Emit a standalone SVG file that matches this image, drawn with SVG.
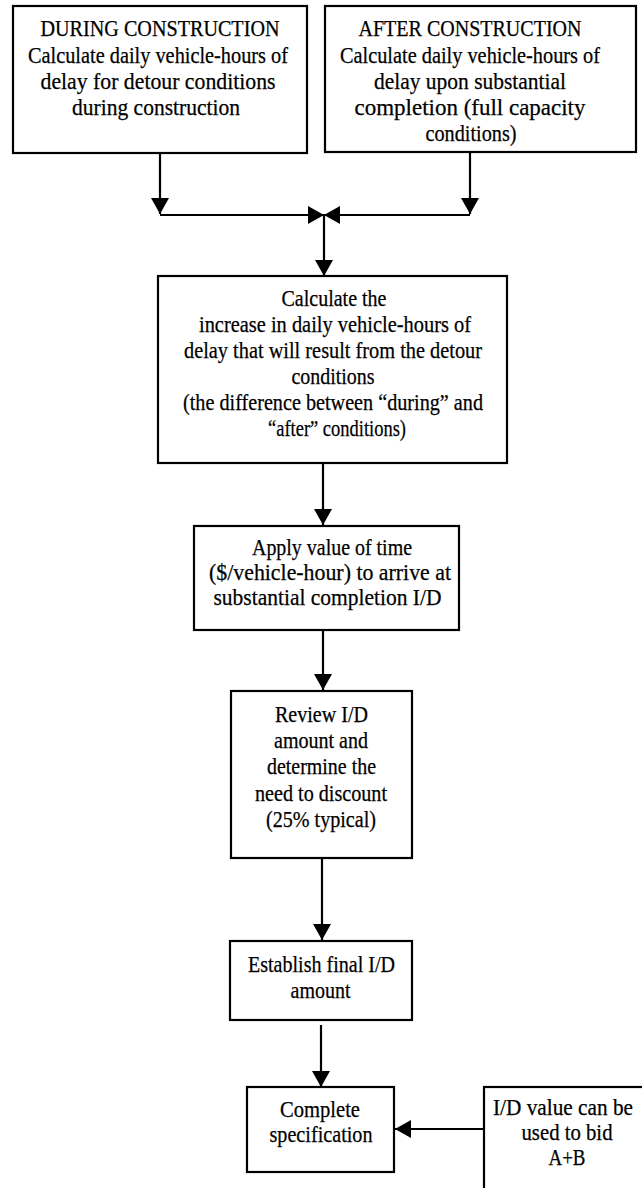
<svg xmlns="http://www.w3.org/2000/svg" width="642" height="1188" viewBox="0 0 642 1188">
  <style>
    .box { fill: #ffffff; stroke: #000000; stroke-width: 2.2; }
    .lbl { font-family: "Liberation Serif", "Times New Roman", serif; font-size: 23.5px; fill: #000000; stroke: #000000; stroke-width: 0.25; text-anchor: middle; }
    .con { fill: none; stroke: #000000; stroke-width: 2.2; marker-end: url(#head); }
  </style>
  <defs>
    <marker id="head" markerUnits="userSpaceOnUse" viewBox="0 0 16 18" refX="16" refY="9" markerWidth="16" markerHeight="18" orient="auto">
      <path d="M0,0 L16,9 L0,18 Z" fill="#000000"/>
    </marker>
  </defs>

  <rect x="0" y="0" width="642" height="1188" fill="#ffffff"/>

  <!-- connectors -->
  <g id="connectors">
    <path class="con" d="M160,153 V214"/>
    <path class="con" d="M470,152 V214"/>
    <path class="con" d="M160,215 H324"/>
    <path class="con" d="M470,215 H324"/>
    <path class="con" d="M324,215 V276"/>
    <path class="con" d="M323,463 V525"/>
    <path class="con" d="M323,630 V690"/>
    <path class="con" d="M322,858 V940"/>
    <path class="con" d="M321,1025 V1087"/>
    <path class="con" d="M484,1129 H395"/>
  </g>

  <g id="during">
    <rect class="box" x="13" y="6" width="294" height="147"/>
    <text class="lbl" x="160" y="36" textLength="239" lengthAdjust="spacingAndGlyphs">DURING CONSTRUCTION</text>
    <text class="lbl" x="158" y="62.5" textLength="260" lengthAdjust="spacingAndGlyphs">Calculate daily vehicle-hours of</text>
    <text class="lbl" x="158" y="89" textLength="235" lengthAdjust="spacingAndGlyphs">delay for detour conditions</text>
    <text class="lbl" x="156" y="115" textLength="168" lengthAdjust="spacingAndGlyphs">during construction</text>
  </g>

  <g id="after">
    <rect class="box" x="325" y="6" width="311" height="146"/>
    <text class="lbl" x="470" y="36" textLength="223" lengthAdjust="spacingAndGlyphs">AFTER CONSTRUCTION</text>
    <text class="lbl" x="470" y="62.5" textLength="260" lengthAdjust="spacingAndGlyphs">Calculate daily vehicle-hours of</text>
    <text class="lbl" x="470" y="89" textLength="192" lengthAdjust="spacingAndGlyphs">delay upon substantial</text>
    <text class="lbl" x="470" y="115" textLength="231" lengthAdjust="spacingAndGlyphs">completion (full capacity</text>
    <text class="lbl" x="471" y="141" textLength="91" lengthAdjust="spacingAndGlyphs">conditions)</text>
  </g>

  <g id="increase">
    <rect class="box" x="158" y="276" width="349" height="187"/>
    <text class="lbl" x="334" y="306" textLength="105" lengthAdjust="spacingAndGlyphs">Calculate the</text>
    <text class="lbl" x="335" y="332" textLength="272" lengthAdjust="spacingAndGlyphs">increase in daily vehicle-hours of</text>
    <text class="lbl" x="333" y="358" textLength="298" lengthAdjust="spacingAndGlyphs">delay that will result from the detour</text>
    <text class="lbl" x="333" y="384" textLength="83" lengthAdjust="spacingAndGlyphs">conditions</text>
    <text class="lbl" x="333" y="410" textLength="300" lengthAdjust="spacingAndGlyphs">(the difference between “during” and</text>
    <text class="lbl" x="337" y="436" textLength="138" lengthAdjust="spacingAndGlyphs">“after” conditions)</text>
  </g>

  <g id="value-of-time">
    <rect class="box" x="194" y="526" width="265" height="104"/>
    <text class="lbl" x="332" y="555" textLength="160" lengthAdjust="spacingAndGlyphs">Apply value of time</text>
    <text class="lbl" x="330" y="580" textLength="242" lengthAdjust="spacingAndGlyphs">($/vehicle-hour) to arrive at</text>
    <text class="lbl" x="327.5" y="605" textLength="228" lengthAdjust="spacingAndGlyphs">substantial completion I/D</text>
  </g>

  <g id="review">
    <rect class="box" x="231" y="691" width="181" height="167"/>
    <text class="lbl" x="321.5" y="722" textLength="93" lengthAdjust="spacingAndGlyphs">Review I/D</text>
    <text class="lbl" x="321" y="748" textLength="94" lengthAdjust="spacingAndGlyphs">amount and</text>
    <text class="lbl" x="321.5" y="774" textLength="109" lengthAdjust="spacingAndGlyphs">determine the</text>
    <text class="lbl" x="321" y="801" textLength="132" lengthAdjust="spacingAndGlyphs">need to discount</text>
    <text class="lbl" x="321" y="827" textLength="110" lengthAdjust="spacingAndGlyphs">(25% typical)</text>
  </g>

  <g id="final">
    <rect class="box" x="230" y="941" width="182" height="79"/>
    <text class="lbl" x="321.5" y="972" textLength="147" lengthAdjust="spacingAndGlyphs">Establish final I/D</text>
    <text class="lbl" x="320.5" y="998" textLength="60" lengthAdjust="spacingAndGlyphs">amount</text>
  </g>

  <g id="specification">
    <rect class="box" x="247" y="1087" width="147" height="85"/>
    <text class="lbl" x="320" y="1117" textLength="80" lengthAdjust="spacingAndGlyphs">Complete</text>
    <text class="lbl" x="321" y="1142" textLength="103" lengthAdjust="spacingAndGlyphs">specification</text>
  </g>

  <!-- this box runs past the right and bottom page edges -->
  <g id="bid">
    <rect class="box" x="484" y="1087" width="160" height="103"/>
    <text class="lbl" x="563" y="1115" textLength="140" lengthAdjust="spacingAndGlyphs">I/D value can be</text>
    <text class="lbl" x="567" y="1140" textLength="91" lengthAdjust="spacingAndGlyphs">used to bid</text>
    <text class="lbl" x="567" y="1165" textLength="37" lengthAdjust="spacingAndGlyphs">A+B</text>
  </g>
</svg>
